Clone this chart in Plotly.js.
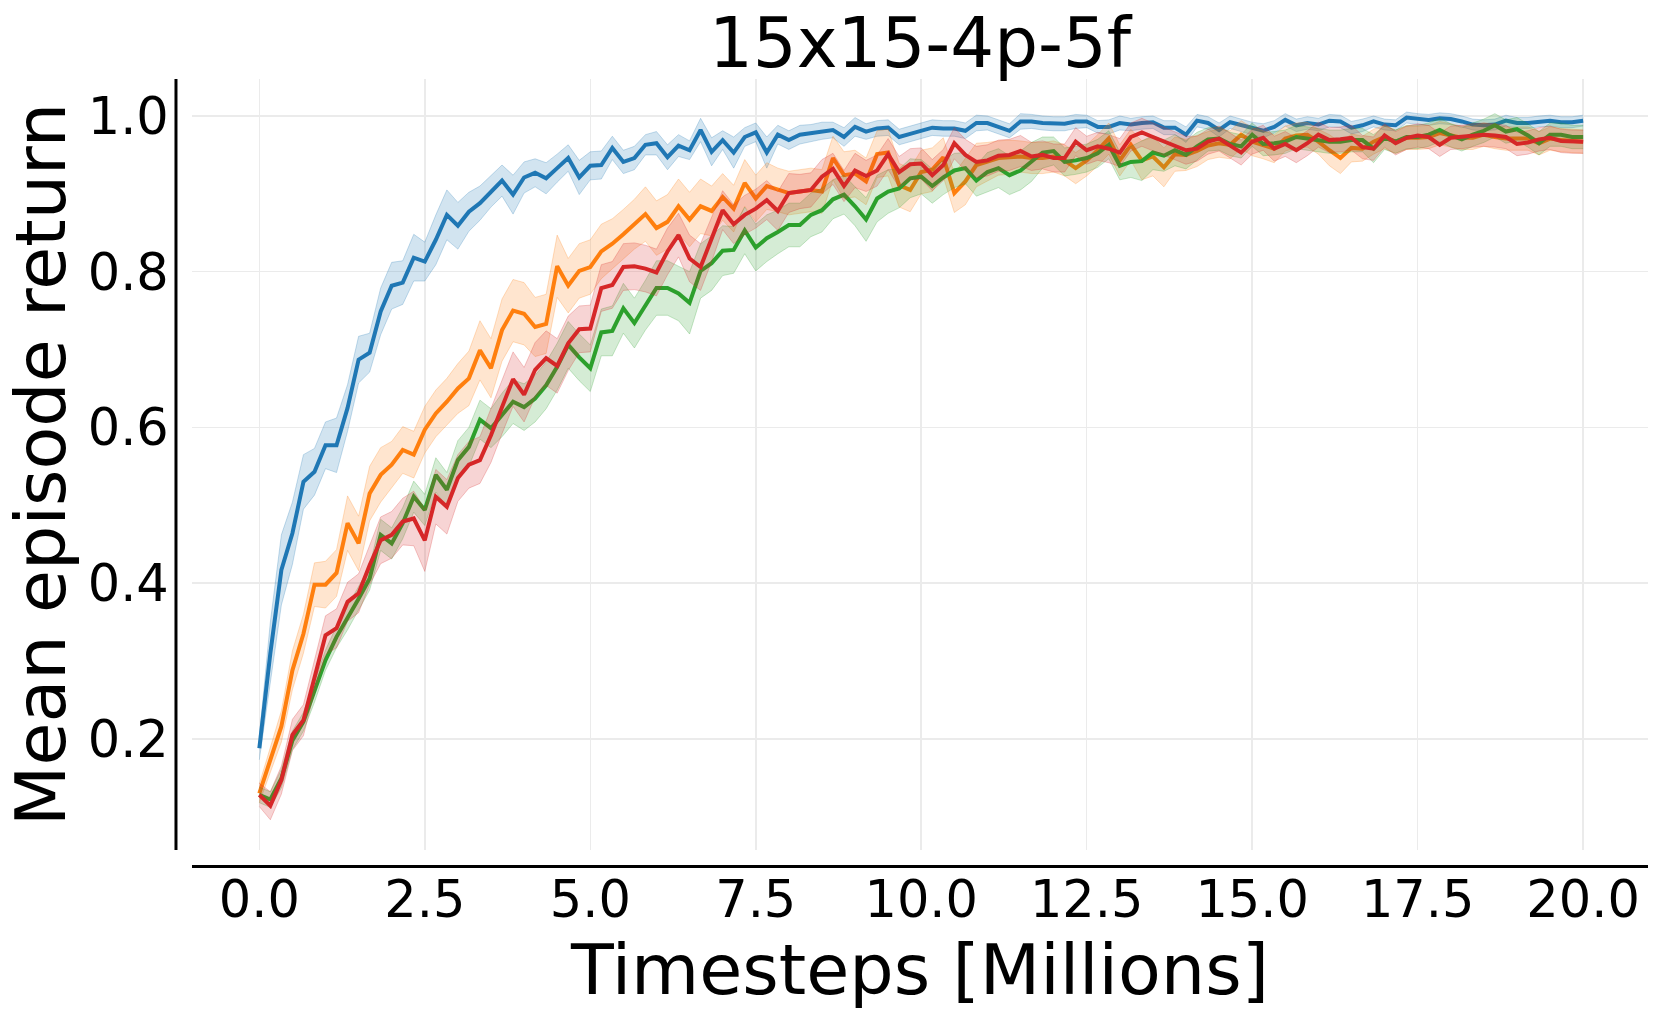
<!DOCTYPE html>
<html>
<head>
<meta charset="utf-8">
<script src="https://cdn.plot.ly/plotly-3.0.1.min.js"></script>
<style>
  html, body { margin: 0; padding: 0; background: #fff; }
  #plot { width: 1661px; height: 1012px; }
</style>
</head>
<body>
<div id="plot"></div>
<script>
// mean episode return, one value every 1/6 M timesteps (0 .. 20M)
var blueMean = [
  0.188, 0.31, 0.417, 0.464, 0.530, 0.543, 0.577, 0.577, 0.625, 0.687,
  0.696, 0.749, 0.782, 0.786, 0.818, 0.813, 0.841, 0.873, 0.859, 0.877,
  0.888, 0.903, 0.917, 0.899, 0.921, 0.927, 0.920, 0.933, 0.946, 0.921,
  0.936, 0.937, 0.959, 0.941, 0.946, 0.963, 0.965, 0.947, 0.962, 0.956,
  0.982, 0.954, 0.969, 0.953, 0.973, 0.979, 0.953, 0.976, 0.969, 0.976,
  0.978, 0.981, 0.982, 0.973, 0.986, 0.980, 0.984, 0.985, 0.973, 0.977,
  0.981, 0.985, 0.984, 0.984, 0.981, 0.991, 0.991, 0.986, 0.981, 0.993,
  0.993, 0.991, 0.990, 0.990, 0.993, 0.993, 0.986, 0.986, 0.991, 0.989,
  0.991, 0.992, 0.985, 0.985, 0.976, 0.994, 0.991, 0.982, 0.992, 0.988,
  0.984, 0.981, 0.986, 0.995, 0.988, 0.991, 0.989, 0.994, 0.993, 0.985,
  0.988, 0.993, 0.989, 0.988, 0.998, 0.996, 0.995, 0.997, 0.996, 0.993,
  0.989, 0.988, 0.989, 0.994, 0.991, 0.991, 0.993, 0.994, 0.992, 0.992,
  0.994
];
var orangeMean = [
  0.130, 0.173, 0.216, 0.288, 0.335, 0.398, 0.398, 0.413, 0.477, 0.451,
  0.515, 0.539, 0.552, 0.571, 0.565, 0.597, 0.618, 0.633, 0.650, 0.663,
  0.699, 0.676, 0.725, 0.750, 0.746, 0.729, 0.733, 0.807, 0.782, 0.801,
  0.806, 0.826, 0.836, 0.848, 0.861, 0.874, 0.856, 0.864, 0.884, 0.867,
  0.884, 0.878, 0.896, 0.881, 0.914, 0.894, 0.910, 0.905, 0.901, 0.903,
  0.905, 0.903, 0.946, 0.924, 0.926, 0.916, 0.951, 0.953, 0.911, 0.905,
  0.928, 0.931, 0.947, 0.901, 0.916, 0.937, 0.941, 0.946, 0.947, 0.948,
  0.946, 0.946, 0.948, 0.943, 0.933, 0.943, 0.956, 0.971, 0.943, 0.963,
  0.943, 0.948, 0.934, 0.951, 0.950, 0.955, 0.962, 0.965, 0.963, 0.976,
  0.967, 0.963, 0.958, 0.971, 0.975, 0.976, 0.967, 0.956, 0.946, 0.959,
  0.958, 0.967, 0.973, 0.967, 0.972, 0.972, 0.973, 0.978, 0.975, 0.972,
  0.972, 0.976, 0.973, 0.971, 0.971, 0.971, 0.965, 0.971, 0.969, 0.968,
  0.967
];
var greenMean = [
  0.128, 0.122, 0.149, 0.198, 0.222, 0.260, 0.301, 0.331, 0.355, 0.380,
  0.406, 0.462, 0.451, 0.477, 0.511, 0.494, 0.539, 0.520, 0.558, 0.575,
  0.610, 0.599, 0.616, 0.633, 0.626, 0.637, 0.654, 0.678, 0.706, 0.690,
  0.676, 0.722, 0.724, 0.753, 0.734, 0.757, 0.779, 0.779, 0.772, 0.760,
  0.801, 0.811, 0.827, 0.828, 0.853, 0.831, 0.843, 0.851, 0.860, 0.860,
  0.873, 0.879, 0.893, 0.899, 0.884, 0.867, 0.894, 0.903, 0.907, 0.920,
  0.922, 0.910, 0.921, 0.930, 0.933, 0.917, 0.928, 0.933, 0.924, 0.930,
  0.941, 0.953, 0.955, 0.941, 0.943, 0.946, 0.952, 0.963, 0.936, 0.941,
  0.942, 0.953, 0.949, 0.956, 0.950, 0.961, 0.970, 0.971, 0.964, 0.961,
  0.976, 0.964, 0.965, 0.967, 0.973, 0.971, 0.969, 0.967, 0.967, 0.969,
  0.969, 0.958, 0.972, 0.967, 0.973, 0.973, 0.976, 0.982, 0.975, 0.970,
  0.976, 0.981, 0.988, 0.980, 0.983, 0.975, 0.965, 0.976, 0.976, 0.973,
  0.973
];
var redMean = [
  0.128, 0.114, 0.147, 0.205, 0.224, 0.280, 0.333, 0.342, 0.376, 0.387,
  0.423, 0.455, 0.462, 0.479, 0.483, 0.455, 0.511, 0.498, 0.535, 0.552,
  0.558, 0.590, 0.627, 0.662, 0.642, 0.674, 0.689, 0.679, 0.708, 0.726,
  0.727, 0.779, 0.783, 0.806, 0.807, 0.804, 0.799, 0.826, 0.847, 0.817,
  0.806, 0.841, 0.879, 0.861, 0.873, 0.881, 0.892, 0.878, 0.901, 0.903,
  0.905, 0.922, 0.932, 0.910, 0.930, 0.923, 0.930, 0.951, 0.928, 0.938,
  0.939, 0.924, 0.937, 0.965, 0.950, 0.941, 0.943, 0.949, 0.950, 0.955,
  0.948, 0.950, 0.946, 0.946, 0.967, 0.956, 0.961, 0.958, 0.953, 0.973,
  0.979, 0.973, 0.967, 0.962, 0.956, 0.958, 0.967, 0.971, 0.962, 0.953,
  0.967, 0.972, 0.958, 0.964, 0.956, 0.965, 0.976, 0.969, 0.970, 0.972,
  0.960, 0.958, 0.975, 0.965, 0.972, 0.975, 0.973, 0.963, 0.972, 0.973,
  0.975, 0.976, 0.975, 0.973, 0.964, 0.966, 0.970, 0.972, 0.968, 0.967,
  0.967
];

// half width of the shaded band around each mean
var blueBand = [
  0.015, 0.04, 0.045, 0.04, 0.035, 0.03, 0.03, 0.035, 0.03, 0.03,
  0.025, 0.03, 0.03, 0.028, 0.03, 0.025, 0.032, 0.032, 0.03, 0.025,
  0.022, 0.02, 0.02, 0.025, 0.02, 0.018, 0.02, 0.018, 0.017, 0.022,
  0.018, 0.018, 0.015, 0.015, 0.015, 0.013, 0.015, 0.016, 0.014, 0.012,
  0.015, 0.018, 0.012, 0.02, 0.012, 0.012, 0.02, 0.012, 0.012, 0.012,
  0.011, 0.011, 0.01, 0.012, 0.012, 0.01, 0.01, 0.01, 0.01, 0.01,
  0.01, 0.01, 0.01, 0.01, 0.01, 0.01, 0.009, 0.009, 0.009, 0.01,
  0.009, 0.009, 0.009, 0.009, 0.009, 0.008, 0.008, 0.009, 0.009, 0.008,
  0.008, 0.008, 0.009, 0.009, 0.01, 0.008, 0.008, 0.009, 0.008, 0.008,
  0.008, 0.009, 0.008, 0.008, 0.008, 0.008, 0.008, 0.008, 0.008, 0.008,
  0.008, 0.007, 0.007, 0.007, 0.007, 0.007, 0.007, 0.007, 0.007, 0.007,
  0.007, 0.007, 0.007, 0.007, 0.007, 0.007, 0.007, 0.007, 0.007, 0.007,
  0.007
];
var orangeBand = [
  0.012, 0.015, 0.02, 0.025, 0.025, 0.028, 0.03, 0.03, 0.035, 0.035,
  0.035, 0.035, 0.03, 0.03, 0.03, 0.03, 0.03, 0.03, 0.032, 0.035,
  0.038, 0.038, 0.04, 0.04, 0.04, 0.038, 0.038, 0.04, 0.035, 0.035,
  0.035, 0.035, 0.032, 0.032, 0.032, 0.035, 0.035, 0.035, 0.035, 0.035,
  0.035, 0.032, 0.03, 0.03, 0.03, 0.03, 0.03, 0.028, 0.028, 0.028,
  0.028, 0.028, 0.028, 0.03, 0.03, 0.03, 0.03, 0.03, 0.028, 0.028,
  0.028, 0.028, 0.025, 0.025, 0.03, 0.028, 0.025, 0.022, 0.022, 0.02,
  0.02, 0.02, 0.02, 0.02, 0.02, 0.02, 0.02, 0.02, 0.02, 0.02,
  0.025, 0.025, 0.025, 0.022, 0.02, 0.02, 0.018, 0.018, 0.018, 0.018,
  0.018, 0.018, 0.018, 0.016, 0.016, 0.016, 0.016, 0.02, 0.02, 0.018,
  0.016, 0.016, 0.015, 0.015, 0.015, 0.015, 0.015, 0.015, 0.015, 0.015,
  0.015, 0.015, 0.015, 0.015, 0.015, 0.015, 0.015, 0.015, 0.015, 0.015,
  0.015
];
var greenBand = [
  0.01, 0.01, 0.012, 0.012, 0.012, 0.013, 0.013, 0.014, 0.015, 0.015,
  0.015, 0.02, 0.02, 0.02, 0.02, 0.02, 0.022, 0.022, 0.025, 0.025,
  0.025, 0.025, 0.028, 0.028, 0.03, 0.03, 0.03, 0.03, 0.03, 0.03,
  0.03, 0.03, 0.032, 0.032, 0.032, 0.032, 0.035, 0.035, 0.035, 0.04,
  0.035, 0.035, 0.032, 0.03, 0.03, 0.03, 0.03, 0.028, 0.028, 0.028,
  0.028, 0.028, 0.025, 0.025, 0.025, 0.028, 0.03, 0.028, 0.025, 0.025,
  0.022, 0.022, 0.022, 0.022, 0.02, 0.02, 0.025, 0.025, 0.025, 0.025,
  0.025, 0.02, 0.018, 0.018, 0.018, 0.018, 0.018, 0.018, 0.018, 0.02,
  0.025, 0.022, 0.02, 0.02, 0.018, 0.018, 0.015, 0.015, 0.015, 0.015,
  0.015, 0.015, 0.015, 0.015, 0.015, 0.015, 0.015, 0.015, 0.015, 0.015,
  0.015, 0.018, 0.015, 0.015, 0.015, 0.015, 0.015, 0.015, 0.015, 0.015,
  0.015, 0.015, 0.015, 0.015, 0.015, 0.015, 0.015, 0.015, 0.015, 0.015,
  0.015
];
var redBand = [
  0.015, 0.018, 0.018, 0.02, 0.02, 0.02, 0.025, 0.025, 0.025, 0.025,
  0.025, 0.03, 0.03, 0.03, 0.035, 0.04, 0.035, 0.035, 0.03, 0.03,
  0.03, 0.035, 0.035, 0.035, 0.035, 0.035, 0.035, 0.035, 0.035, 0.03,
  0.03, 0.03, 0.03, 0.03, 0.03, 0.03, 0.03, 0.03, 0.028, 0.03,
  0.03, 0.028, 0.025, 0.025, 0.025, 0.025, 0.025, 0.025, 0.025, 0.022,
  0.022, 0.022, 0.02, 0.02, 0.022, 0.02, 0.02, 0.02, 0.02, 0.02,
  0.02, 0.02, 0.02, 0.02, 0.02, 0.02, 0.02, 0.02, 0.02, 0.02,
  0.018, 0.018, 0.018, 0.018, 0.018, 0.018, 0.018, 0.018, 0.018, 0.018,
  0.018, 0.018, 0.018, 0.018, 0.018, 0.016, 0.016, 0.016, 0.016, 0.016,
  0.016, 0.016, 0.016, 0.016, 0.016, 0.016, 0.016, 0.016, 0.016, 0.016,
  0.015, 0.015, 0.015, 0.015, 0.015, 0.015, 0.015, 0.015, 0.015, 0.015,
  0.015, 0.015, 0.015, 0.015, 0.015, 0.015, 0.015, 0.015, 0.015, 0.015,
  0.015
];

var xTicks = [0, 2.5, 5, 7.5, 10, 12.5, 15, 17.5, 20];
var xTickText = ["0.0", "2.5", "5.0", "7.5", "10.0", "12.5", "15.0", "17.5", "20.0"];
var yTicks = [0.2, 0.4, 0.6, 0.8, 1.0];
var yTickText = ["0.2", "0.4", "0.6", "0.8", "1.0"];

// logged every 1/6 million steps
var timesteps = blueMean.map((v, i) => i * 20 / 120);

function seriesTraces(mean, band, color, fill, edge) {
  var lower = mean.map((m, i) => m - band[i]);
  var upper = mean.map((m, i) => m + band[i]);
  return [
    {x: timesteps, y: lower, mode: "lines", line: {width: 1, color: edge},
     hoverinfo: "skip", showlegend: false},
    {x: timesteps, y: upper, mode: "lines", line: {width: 1, color: edge},
     fill: "tonexty", fillcolor: fill, hoverinfo: "skip", showlegend: false},
    {x: timesteps, y: mean, mode: "lines", line: {width: 4, color: color},
     showlegend: false}
  ];
}

var chart_data = []
  .concat(seriesTraces(blueMean, blueBand, "#1f77b4", "rgba(31,119,180,0.2)", "rgba(31,119,180,0.25)"))
  .concat(seriesTraces(orangeMean, orangeBand, "#ff7f0e", "rgba(255,127,14,0.2)", "rgba(255,127,14,0.25)"))
  .concat(seriesTraces(greenMean, greenBand, "#2ca02c", "rgba(44,160,44,0.2)", "rgba(44,160,44,0.25)"))
  .concat(seriesTraces(redMean, redBand, "#d62728", "rgba(214,39,40,0.2)", "rgba(214,39,40,0.25)"));

var font = "DejaVu Sans, sans-serif";

var layout = {
  width: 1661,
  height: 1012,
  margin: {l: 192, r: 13, t: 79, b: 162},
  paper_bgcolor: "#fff",
  plot_bgcolor: "#fff",
  font: {family: font, color: "#000"},
  title: {text: "15x15-4p-5f", font: {size: 69, family: font},
          xref: "paper", x: 0.5, yref: "container", y: 0.958, yanchor: "middle"},
  xaxis: {
    range: [-1.017, 20.98],
    tickvals: xTicks, ticktext: xTickText,
    tickfont: {size: 51},
    ticks: "outside", ticklen: 5, tickcolor: "rgba(0,0,0,0)",
    showgrid: true, gridcolor: "#ebebeb", gridwidth: 1.5,
    zeroline: false, showline: false,
    title: {text: "Timesteps [Millions]", font: {size: 70}, standoff: 3}
  },
  yaxis: {
    range: [0.0572, 1.0475],
    tickvals: yTicks, ticktext: yTickText,
    tickfont: {size: 51},
    ticks: "outside", ticklen: 12, tickcolor: "rgba(0,0,0,0)",
    showgrid: true, gridcolor: "#ebebeb", gridwidth: 1.5,
    zeroline: false, showline: false,
    title: {text: "Mean episode return", font: {size: 70}, standoff: 14}
  },
  // offset spines, drawn by hand
  shapes: [
    {type: "line", xref: "paper", yref: "paper", x0: -0.011, x1: -0.011, y0: 0, y1: 1,
     line: {color: "#000", width: 3}},
    {type: "line", xref: "paper", yref: "paper", x0: 0, x1: 1, y0: -0.0214, y1: -0.0214,
     line: {color: "#000", width: 3}}
  ]
};

var config = {responsive: false, displayModeBar: false, staticPlot: true};

Plotly.newPlot("plot", chart_data, layout, config);
</script>
</body>
</html>
